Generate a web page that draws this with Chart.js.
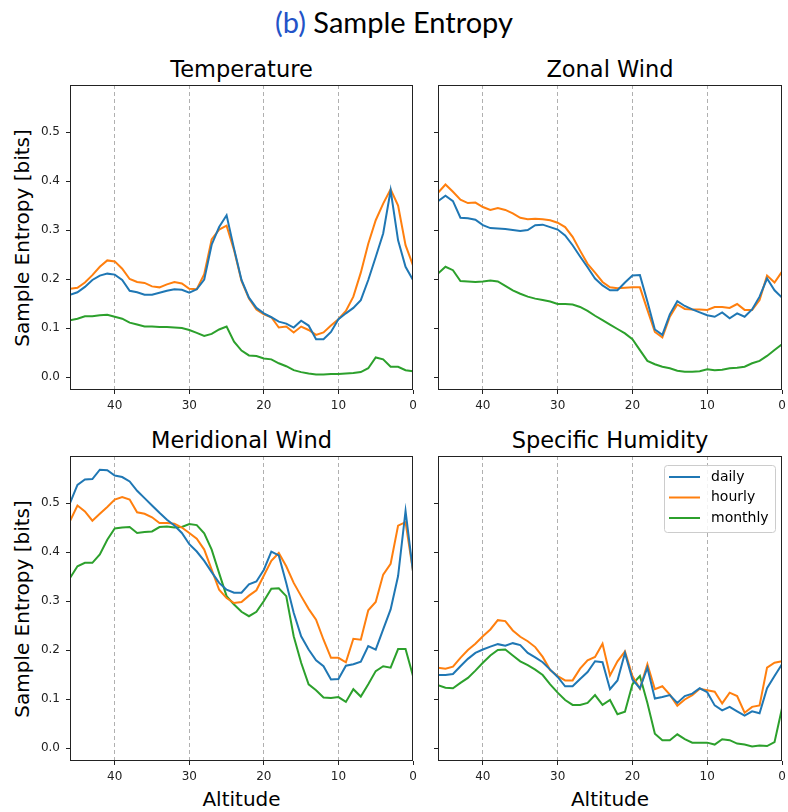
<!DOCTYPE html>
<html>
<head>
<meta charset="utf-8">
<script src="https://cdn.jsdelivr.net/npm/chart.js@4"></script>
<style>
    body { margin: 0; background: #fff; }
    #fig { position: relative; width: 788px; height: 812px; overflow: hidden; }
    canvas { position: absolute; }
    .txt { position: absolute; transform: translate(-50%, -50%); line-height: 1; white-space: nowrap; color: #000; font-family: "DejaVu Sans", sans-serif; }
    .sup { font-family: Lato, sans-serif; font-size: 29px; }
    .sub { font-size: 22.5px; }
    .lab { font-size: 20px; }
    .rot { transform: translate(-50%, -50%) rotate(-90deg); }
</style>
</head>
<body>
<div id="fig">
    <div class="txt sup" style="left:394px; top:21px;"><span style="color:#2353c8">(b)</span> Sample Entropy</div>

    <div class="txt sub" style="left:241.5px; top:69px;">Temperature</div>
    <div class="txt sub" style="left:610px; top:69px;">Zonal Wind</div>
    <div class="txt sub" style="left:241.5px; top:440px;">Meridional Wind</div>
    <div class="txt sub" style="left:610px; top:440px;">Specific Humidity</div>

    <div class="txt lab rot" style="left:22px; top:237.5px;">Sample Entropy [bits]</div>
    <div class="txt lab rot" style="left:22px; top:608.5px;">Sample Entropy [bits]</div>
    <div class="txt lab" style="left:241.5px; top:799px;">Altitude</div>
    <div class="txt lab" style="left:610px; top:799px;">Altitude</div>

    <canvas id="cTemp" width="420" height="340" style="left:0; top:80px;"></canvas>
    <canvas id="cZonal" width="368" height="340" style="left:420px; top:80px;"></canvas>
    <canvas id="cMer" width="420" height="340" style="left:0; top:451px;"></canvas>
    <canvas id="cHum" width="368" height="340" style="left:420px; top:451px;"></canvas>
</div>

<script>
// niveles de altitud (eje x invertido)
const altitude = [46, 45, 44, 43, 42, 41, 40, 39, 38, 37, 36, 35, 34, 33, 32, 31, 30, 29, 28, 27, 26, 25, 24, 23,
    22, 21, 20, 19, 18, 17, 16, 15, 14, 13, 12, 11, 10, 9, 8, 7, 6, 5, 4, 3, 2, 1, 0];
const xTicks = [40, 30, 20, 10, 0];
const yTicks = [0.0, 0.1, 0.2, 0.3, 0.4, 0.5];
const seriesNames = ['daily', 'hourly', 'monthly'];

// Temperature
const tempDaily = [.168, .173, .184, .198, .207, .211, .209, .198, .176, .173, .168, .168, .172, .176, .179, .178,
    .172, .179, .199, .270, .306, .330, .262, .198, .162, .141, .130, .122, .113, .109, .101, .115, .105, .077, .077,
    .092, .118, .130, .141, .157, .198, .245, .293, .381, .279, .225, .198];
const tempHourly = [.180, .182, .193, .208, .225, .238, .236, .221, .200, .194, .192, .185, .183, .189, .194, .191,
    .180, .179, .210, .281, .301, .309, .259, .196, .160, .138, .128, .122, .101, .103, .091, .103, .096, .086, .091,
    .105, .118, .135, .164, .213, .272, .320, .354, .383, .350, .269, .228];
const tempMonthly = [.116, .119, .124, .124, .126, .127, .123, .119, .111, .107, .103, .103, .102, .102, .101, .100,
    .096, .090, .084, .088, .097, .103, .072, .054, .044, .043, .038, .036, .028, .022, .014, .010, .007, .005, .005,
    .006, .006, .007, .008, .010, .018, .040, .036, .021, .021, .014, .012];

// Zonal Wind
const zonalDaily = [.359, .370, .359, .325, .324, .321, .310, .304, .303, .302, .300, .298, .300, .310, .311, .306,
    .301, .289, .269, .246, .224, .201, .187, .177, .177, .193, .207, .208, .154, .097, .086, .128, .155, .145, .138,
    .132, .126, .123, .132, .120, .130, .123, .138, .164, .201, .177, .162];
const zonalHourly = [.376, .393, .378, .362, .355, .356, .347, .341, .345, .341, .334, .325, .322, .323, .322, .320,
    .315, .306, .286, .258, .231, .213, .194, .183, .181, .182, .183, .183, .137, .092, .081, .123, .148, .139, .138,
    .138, .137, .143, .143, .141, .149, .137, .137, .157, .207, .193, .215];
const zonalMonthly = [.211, .225, .218, .196, .195, .194, .195, .197, .195, .186, .177, .170, .164, .160, .157, .154,
    .149, .149, .148, .143, .135, .125, .116, .107, .098, .089, .077, .055, .033, .026, .021, .018, .013, .011, .011,
    .012, .016, .014, .015, .018, .019, .021, .028, .033, .043, .055, .067];

// Meridional Wind
const merDaily = [.500, .537, .548, .549, .568, .567, .556, .553, .544, .525, .510, .495, .480, .466, .454, .439,
    .416, .401, .382, .359, .337, .323, .317, .317, .334, .340, .364, .401, .393, .337, .276, .228, .201, .179, .167,
    .140, .141, .168, .171, .176, .208, .201, .242, .283, .351, .484, .360];
const merHourly = [.463, .495, .483, .464, .478, .492, .507, .512, .507, .481, .478, .471, .459, .459, .458, .450,
    .439, .427, .405, .364, .323, .306, .296, .298, .311, .322, .352, .382, .398, .371, .337, .310, .284, .262, .221,
    .184, .184, .175, .223, .221, .281, .298, .354, .376, .454, .461, .361];
const merMonthly = [.347, .371, .378, .378, .395, .425, .448, .450, .451, .439, .441, .442, .451, .452, .450, .451,
    .457, .455, .438, .405, .357, .310, .293, .278, .269, .278, .300, .325, .326, .310, .228, .174, .130, .118, .103,
    .102, .104, .094, .120, .105, .130, .157, .167, .164, .202, .202, .147];

// Specific Humidity
const humDaily = [.149, .149, .151, .167, .182, .194, .201, .207, .212, .209, .214, .210, .194, .185, .175, .160,
    .145, .126, .126, .141, .155, .177, .175, .120, .138, .194, .140, .122, .164, .101, .104, .108, .092, .106, .111,
    .122, .114, .087, .077, .084, .075, .066, .075, .071, .122, .147, .171];
const humHourly = [.164, .162, .166, .184, .200, .213, .228, .242, .261, .259, .240, .227, .218, .206, .186, .159,
    .147, .138, .138, .162, .179, .186, .213, .148, .177, .197, .147, .121, .171, .120, .126, .109, .086, .099, .108,
    .121, .118, .115, .091, .113, .106, .072, .084, .087, .164, .174, .177];
const humMonthly = [.128, .123, .122, .133, .143, .158, .174, .189, .200, .201, .189, .177, .169, .160, .149, .130,
    .113, .098, .088, .088, .092, .108, .088, .098, .069, .074, .130, .147, .092, .029, .016, .016, .028, .018, .011,
    .011, .011, .007, .018, .016, .009, .007, .003, .005, .004, .012, .081];

const colors = ['#1f77b4', '#ff7f0e', '#2ca02c'];

// marco negro alrededor del area del grafico
const framePlugin = {
    id: 'frame',
    afterDraw(chart) {
        const a = chart.chartArea;
        const ctx = chart.ctx;
        ctx.save();
        ctx.strokeStyle = '#222';
        ctx.lineWidth = 1;
        ctx.strokeRect(Math.round(a.left) + 0.5, Math.round(a.top) + 0.5,
            Math.round(a.right - a.left) - 1, Math.round(a.bottom - a.top) - 1);
        ctx.restore();
    }
};

// leyenda dentro del panel (solo humedad)
const legendPlugin = {
    id: 'innerLegend',
    afterDraw(chart) {
        const ctx = chart.ctx;
        const a = chart.chartArea;
        const x0 = a.right - 118, y0 = a.top + 9, w = 111, h = 67;
        ctx.save();
        ctx.fillStyle = 'rgba(255,255,255,0.85)';
        ctx.strokeStyle = '#cccccc';
        ctx.lineWidth = 1;
        ctx.beginPath();
        ctx.roundRect(x0 + 0.5, y0 + 0.5, w, h, 3);
        ctx.fill();
        ctx.stroke();
        ctx.font = '14px "DejaVu Sans"';
        ctx.textBaseline = 'middle';
        chart.data.datasets.forEach((ds, i) => {
            const y = y0 + 12 + i * 20.5;
            ctx.strokeStyle = ds.borderColor;
            ctx.lineWidth = 2;
            ctx.beginPath();
            ctx.moveTo(x0 + 5, y);
            ctx.lineTo(x0 + 36, y);
            ctx.stroke();
            ctx.fillStyle = '#000';
            ctx.fillText(ds.label, x0 + 47, y);
        });
        ctx.restore();
    }
};

// quitar el relleno que Chart.js reserva para las etiquetas de los extremos
function fixBox(scale, size) {
    if (scale.isHorizontal()) scale.height = size; else scale.width = size;
    scale.paddingTop = 0;
    scale.paddingBottom = 0;
    scale.paddingLeft = 0;
    scale.paddingRight = 0;
}

function makePanel(id, series, isLeft, withLegend) {
    const ctx = document.getElementById(id).getContext('2d');
    return new Chart(ctx, {
        type: 'line',
        data: {
            datasets: series.map((s, i) => ({
                label: seriesNames[i],
                data: altitude.map((a, k) => ({ x: a, y: s[k] })),
                borderColor: colors[i],
                borderWidth: 2,
                pointRadius: 0,
                tension: 0,
                fill: false
            }))
        },
        options: {
            responsive: false,
            animation: false,
            layout: { padding: { top: 5, right: isLeft ? 7 : 6, bottom: 0, left: 0 } },
            plugins: { legend: { display: false }, tooltip: { enabled: false } },
            scales: {
                x: {
                    type: 'linear',
                    reverse: true,
                    min: 0,
                    max: 46,
                    afterBuildTicks: scale => { scale.ticks = xTicks.map(v => ({ value: v })); },
                    afterFit: scale => fixBox(scale, 30),
                    ticks: {
                        color: '#222',
                        padding: 5,
                        font: { family: 'DejaVu Sans', size: 12 },
                        callback: v => String(v)
                    },
                    grid: {
                        color: c => (c.tick && c.tick.value === 0) ? 'rgba(0,0,0,0)' : '#b0b0b0',
                        lineWidth: 1,
                        tickLength: 4,
                        tickColor: '#222',
                        tickBorderDash: []
                    },
                    border: { display: false, dash: [4, 3] }
                },
                y: {
                    min: -0.0265,
                    max: 0.596,
                    afterBuildTicks: scale => { scale.ticks = yTicks.map(v => ({ value: v })); },
                    afterFit: scale => fixBox(scale, isLeft ? 70 : 18),
                    ticks: {
                        color: '#222',
                        padding: 6,
                        font: { family: 'DejaVu Sans', size: 12 },
                        callback: v => isLeft ? v.toFixed(1) : ''
                    },
                    grid: {
                        drawOnChartArea: false,
                        tickLength: 4,
                        tickColor: '#222'
                    },
                    border: { display: false }
                }
            }
        },
        plugins: withLegend ? [framePlugin, legendPlugin] : [framePlugin]
    });
}

document.addEventListener('DOMContentLoaded', function() {
    makePanel('cTemp', [tempDaily, tempHourly, tempMonthly], true, false);
    makePanel('cZonal', [zonalDaily, zonalHourly, zonalMonthly], false, false);
    makePanel('cMer', [merDaily, merHourly, merMonthly], true, false);
    makePanel('cHum', [humDaily, humHourly, humMonthly], false, true);
});
</script>
</body>
</html>
